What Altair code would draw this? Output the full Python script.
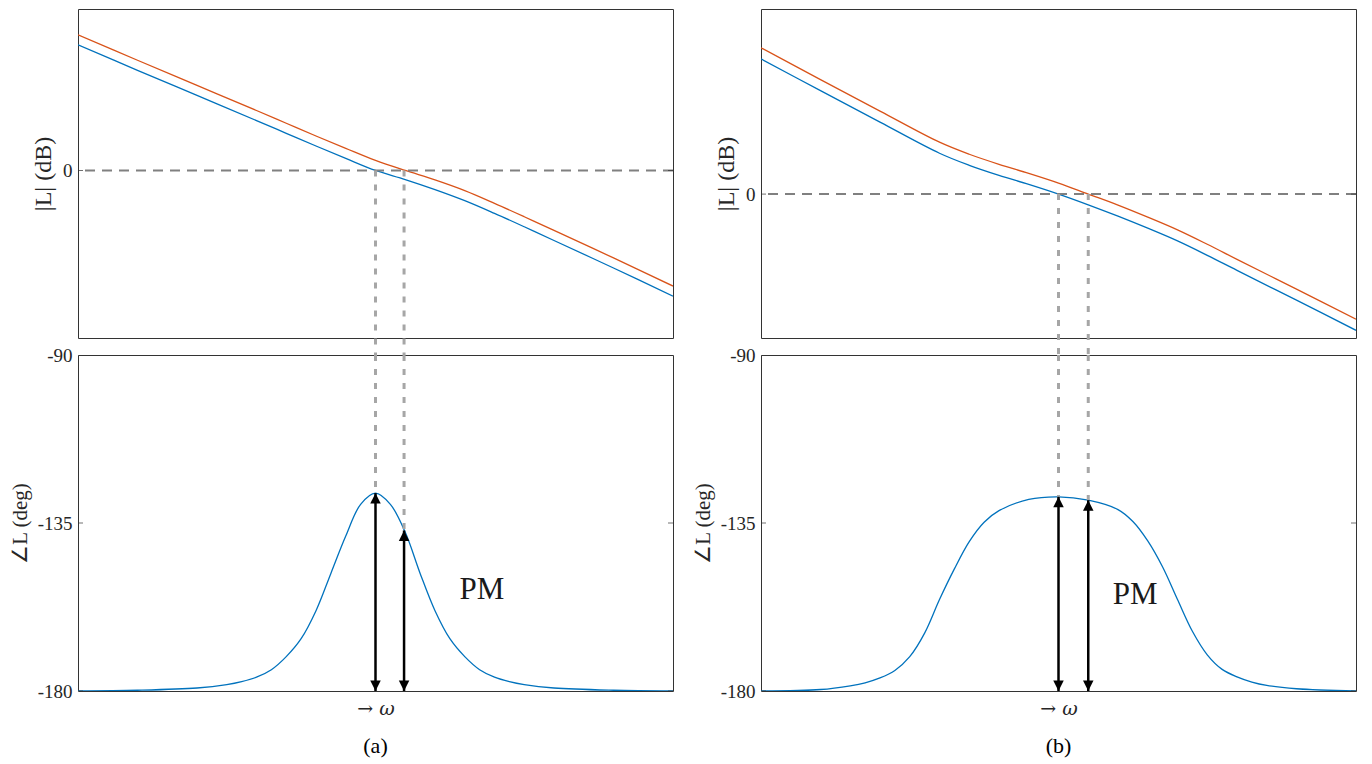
import altair as alt
import pandas as pd

FONT = "Liberation Serif"
BLUE = "#0072BD"
ORANGE = "#D95319"
INK = "#262626"

# ---- magnitude curves (dB) on a normalised log-frequency axis 0..10 ----
U_MAG = [0, 1, 2, 3, 3.5, 4, 4.5, 5, 5.5, 6, 6.5, 7, 7.5, 8, 9, 10]
A_MAG_BLUE = [37.5, 29.9, 22.4, 14.9, 11.1, 7.3, 3.6, 0.0, -2.7, -5.7, -9.0, -12.8, -16.8, -20.9, -29.1, -37.5]
A_MAG_ORANGE = [40.5, 32.9, 25.4, 17.9, 14.1, 10.3, 6.6, 3.0, 0.0, -2.8, -6.0, -9.8, -13.8, -17.9, -26.1, -34.5]
B_MAG_BLUE = [40.4, 30.9, 21.5, 12.2, 8.6, 5.6, 2.9, 0.0, -3.2, -6.6, -10.2, -14.0, -18.3, -22.8, -31.7, -40.7]
B_MAG_ORANGE = [43.7, 34.2, 24.8, 15.5, 11.9, 8.9, 6.2, 3.3, 0.0, -3.3, -6.9, -10.7, -15.0, -19.5, -28.4, -37.4]

# ---- phase curves (deg) ----
A_PH_U = [0, 1, 2, 2.5, 2.75, 3, 3.25, 3.5, 3.75, 4, 4.25, 4.5, 4.75, 5,
          5.25, 5.5, 5.75, 6, 6.25, 6.5, 6.75, 7, 7.25, 7.5, 8, 9, 10]
A_PH = [-180, -179.8, -179.2, -178.3, -177.5, -176.3, -174.3, -170.8, -166, -158.5,
        -148.5, -138.5, -130, -127, -130, -137.5, -148.5, -158.5, -166, -170.8,
        -174.3, -176.3, -177.5, -178.3, -179.2, -179.8, -180]
B_PH_U = [0, 1, 1.5, 1.75, 2, 2.25, 2.5, 2.75, 3, 3.25, 3.5, 3.75, 4, 4.5, 5, 5.5,
          6, 6.25, 6.5, 6.75, 7, 7.25, 7.5, 7.75, 8, 8.25, 8.5, 9, 10]
B_PH = [-180, -179.6, -178.6, -177.8, -176.5, -174.5, -170.8, -164.5, -155.5, -147.3,
        -140, -134.8, -131.7, -128.7, -128, -128.9, -131.4, -134.6, -139.8, -146.8,
        -155.5, -164, -170.3, -174.2, -176.2, -177.6, -178.5, -179.4, -180]

# crossover frequencies (blue, orange) and the phase there
A_CROSS = [5.0, 5.48]
A_CROSS_PH = [-127, -137]
B_CROSS = [5.0, 5.5]
B_CROSS_PH = [-128, -128.9]

A_MAG_DOMAIN = [-50.0, 48.2]
B_MAG_DOMAIN = [-43.0, 55.3]
A_GAP_LOW = -55.1
B_GAP_LOW = -48.1
PH_DOMAIN = [-180, -90]
MAG_TICKS = [0]
PH_TICKS = [-90, -135, -180]

A_PM = [6.79, -152.9]
B_PM = [6.29, -154.3]

UP_HEAD = "M0,0L-0.5,1L0.5,1Z"
DOWN_HEAD = "M0,0L-0.5,-1L0.5,-1Z"

X_SCALE = alt.Scale(domain=[0, 10], nice=False, zero=False)


def top_panel(blue, orange, dom, cross, gap_low):
    n = len(U_MAG)
    df = pd.DataFrame({"x": U_MAG + U_MAG, "y": orange + blue,
                       "s": ["K"] * n + ["base"] * n})
    X = alt.X("x:Q", scale=X_SCALE, axis=None)
    Y = alt.Y("y:Q", scale=alt.Scale(domain=dom, nice=False, zero=False),
              axis=alt.Axis(values=MAG_TICKS, title="|L| (dB)", ticks=False, titleFontSize=24,
                            domain=False, grid=False, labelExpr="datum.value + ''"))
    lines = alt.Chart(df).mark_line(strokeWidth=1.3, interpolate="catmull-rom",
                                    clip=True).encode(
        x=X, y=Y,
        color=alt.Color("s:N", scale=alt.Scale(domain=["K", "base"], range=[ORANGE, BLUE]),
                        legend=None))
    zero = alt.Chart(pd.DataFrame({"y": [0]})).mark_rule(
        color="#808080", strokeWidth=2, strokeDash=[10, 7]).encode(y=Y)
    vl = alt.Chart(pd.DataFrame({"x": cross, "y": [0, 0], "y2": [gap_low, gap_low]})).mark_rule(
        color="#a6a6a6", strokeWidth=3, strokeDash=[6, 8]).encode(x=X, y=Y, y2="y2:Q")
    ticks = alt.Chart(pd.DataFrame({"x": [0, 10], "y": [0, 0]})).mark_tick(
        orient="horizontal", size=10, thickness=1, color="#333333", clip=True).encode(x=X, y=Y)
    return alt.layer(lines, zero, vl, ticks).properties(width=595, height=329)


def bottom_panel(u, ph, cross, cross_ph, pm, caption):
    X = alt.X("x:Q", scale=X_SCALE,
              axis=alt.Axis(title="→ ω", labels=False, ticks=False, domain=False, grid=False,
                            titleFont="DejaVu Serif", titleFontStyle="italic",
                            titleFontSize=19, titlePadding=8))
    Y = alt.Y("y:Q", scale=alt.Scale(domain=PH_DOMAIN, nice=False, zero=False),
              axis=alt.Axis(values=PH_TICKS, title="∠L (deg)", ticks=False, domain=False,
                            grid=False, labelExpr="datum.value + ''"))
    curve = alt.Chart(pd.DataFrame({"x": u, "y": ph})).mark_line(
        color=BLUE, strokeWidth=1.3, interpolate="catmull-rom", clip=True).encode(x=X, y=Y)
    vl = alt.Chart(pd.DataFrame({"x": cross, "y": [-90, -90], "y2": cross_ph})).mark_rule(
        color="#a6a6a6", strokeWidth=3, strokeDash=[6, 8]).encode(x=X, y=Y, y2="y2:Q")
    shafts = alt.Chart(pd.DataFrame({"x": cross, "y": [-180, -180], "y2": cross_ph})).mark_rule(
        color="black", strokeWidth=2.5).encode(x=X, y=Y, y2="y2:Q")
    up = alt.Chart(pd.DataFrame({"x": cross, "y": cross_ph})).mark_point(
        shape=UP_HEAD, filled=True, size=440, color="black", opacity=1, strokeWidth=0).encode(x=X, y=Y)
    down = alt.Chart(pd.DataFrame({"x": cross, "y": [-180, -180]})).mark_point(
        shape=DOWN_HEAD, filled=True, size=440, color="black", opacity=1, strokeWidth=0).encode(x=X, y=Y)
    label = alt.Chart(pd.DataFrame({"x": [pm[0]], "y": [pm[1]], "t": ["PM"]})).mark_text(
        font=FONT, fontSize=31, color="#1a1a1a", align="center", baseline="middle").encode(
        x=X, y=Y, text="t:N")
    tdf = pd.DataFrame({"x": [0, 0, 0, 10, 10, 10], "y": PH_TICKS + PH_TICKS})
    ticks = alt.Chart(tdf).mark_tick(orient="horizontal", size=10, thickness=1,
                                     color="#333333", clip=True).encode(x=X, y=Y)
    return alt.layer(curve, vl, shafts, up, down, label, ticks).properties(
        width=595, height=336,
        title=alt.TitleParams(caption, orient="bottom", frame="group", anchor="middle",
                              offset=18, fontSize=22, font=FONT, fontWeight="normal",
                              color="black"))


col_a = alt.vconcat(
    top_panel(A_MAG_BLUE, A_MAG_ORANGE, A_MAG_DOMAIN, A_CROSS, A_GAP_LOW),
    bottom_panel(A_PH_U, A_PH, A_CROSS, A_CROSS_PH, A_PM, "(a)"),
    spacing=17, bounds="flush")
col_b = alt.vconcat(
    top_panel(B_MAG_BLUE, B_MAG_ORANGE, B_MAG_DOMAIN, B_CROSS, B_GAP_LOW),
    bottom_panel(B_PH_U, B_PH, B_CROSS, B_CROSS_PH, B_PM, "(b)"),
    spacing=17, bounds="flush")

chart = alt.hconcat(col_a, col_b, spacing=16).properties(padding=0).configure_view(
    stroke="#333333", strokeWidth=1
).configure_axis(
    labelFont=FONT, labelFontSize=19, labelColor=INK, labelPadding=6,
    titleFont=FONT, titleFontSize=21, titleColor=INK, titleFontWeight="normal",
    titlePadding=7
)

chart.save("out.html", embed_options={"renderer": "svg", "actions": False})
